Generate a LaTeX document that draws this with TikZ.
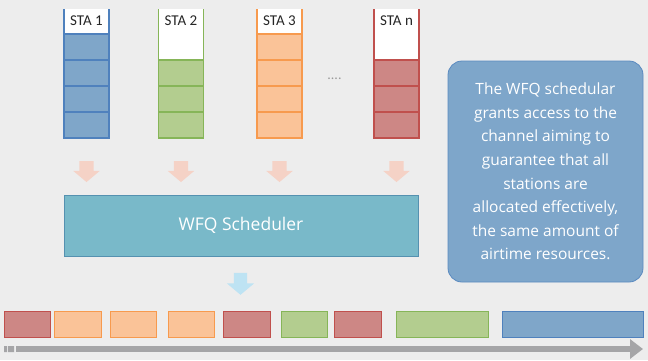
\documentclass[tikz,border=0pt]{standalone}
\usepackage{fontspec}
\setmainfont{Carlito}
\newfontfamily\lightfont{Open Sans}
\usetikzlibrary{shapes.arrows, arrows.meta}

\definecolor{bggray}{HTML}{EDEDED}
\definecolor{blueline}{HTML}{4F81BD}
\definecolor{bluefill}{HTML}{7FA6C9}
\definecolor{greenline}{HTML}{86B558}
\definecolor{greenfill}{HTML}{B3CD8F}
\definecolor{orangeline}{HTML}{F79A4E}
\definecolor{orangefill}{HTML}{FAC398}
\definecolor{redline}{HTML}{C0504D}
\definecolor{redfill}{HTML}{CD8785}
\definecolor{schedfill}{HTML}{79B9C9}
\definecolor{schedline}{HTML}{5591B0}
\definecolor{notefill}{HTML}{7EA6CA}
\definecolor{noteline}{HTML}{5A8AC0}
\definecolor{salmon}{HTML}{F5D2C6}
\definecolor{skyarrow}{HTML}{BEE3F3}
\definecolor{timegray}{HTML}{A5A5A7}
\definecolor{dotgray}{HTML}{9A9A9A}

\begin{document}
\begin{tikzpicture}[
    x=1pt, y=-1pt,
    cell/.style={rectangle, draw=#1line, fill=#1fill, line width=1.1pt, minimum width=45pt, minimum height=26pt, inner sep=0pt},
    slot/.style={rectangle, draw=#1line, fill=#1fill, line width=1pt, minimum height=26pt, inner sep=0pt},
    stalabel/.style={font=\fontsize{15}{17}\selectfont, text=black!85},
    flowarrow/.style={single arrow, shape border rotate=270, fill=#1, draw=none, inner sep=7pt, minimum height=21pt, single arrow head extend=6pt, single arrow tip angle=100, single arrow head indent=0pt},
    scheduler/.style={rectangle, draw=schedline, fill=schedfill, line width=0.8pt, minimum width=354pt, minimum height=61pt, text=white, font=\lightfont\fontsize{17.5}{20}\selectfont},
    note/.style={rectangle, rounded corners=14pt, draw=noteline, fill=notefill, line width=0.8pt, minimum width=195pt, minimum height=221pt, align=center, text=white, font=\lightfont\fontsize{15.5}{23.6}\selectfont},
    timeline/.style={line width=6pt, timegray, -{Triangle[length=13pt, width=19pt]}}
]
% Background
\fill[bggray] (0,0) rectangle (648,360);
\useasboundingbox (0,0) rectangle (648,360);

% Station queues
\foreach \sta/\cx/\n/\col in {1/86.5/4/blue, 2/181/3/green, 3/279.5/4/orange, n/396.5/3/red} {
    \draw[draw=\col line, line width=1.1pt, fill=white] (\cx-22.5,9) -- (\cx-22.5,138) -- (\cx+22.5,138) -- (\cx+22.5,9);
    \foreach \k in {1,...,\n} {
        \node[cell=\col] (q\sta-\k) at (\cx, 151-26*\k) {};
    }
    \node[stalabel] (sta\sta) at (\cx, 21) {STA \sta};
    \node[flowarrow=salmon] (in\sta) at (\cx, 168.5) {};
}
\node[font=\fontsize{14}{16}\selectfont, text=dotgray] (more) at (334.5, 79) {....};

% Scheduler
\node[scheduler] (wfq) at (241, 225.5) {WFQ Scheduler};
\node[flowarrow=skyarrow, inner sep=6.5pt, minimum height=22pt, single arrow head extend=7pt] (out) at (240.5, 281) {};

% Explanation
\node[note] (note) at (545.5, 171.5) {The WFQ schedular\\grants access to the\\channel aiming to\\guarantee that all\\stations are\\allocated effectively,\\the same amount of\\airtime resources.};

% Airtime slots
\foreach \cx/\w/\col [count=\i] in {27/46/red, 77.5/47/orange, 133/46/orange, 191/46/orange, 246.5/47/red, 304/46/green, 357.5/47/red, 442/92/green, 572.5/141/blue}
    \node[slot=\col, minimum width=\w pt] (slot\i) at (\cx, 324) {};

% Time axis
\coordinate (tstart) at (16,349);
\coordinate (tend) at (643,349);
\draw[timeline] (tstart) -- (tend);
\fill[timegray] (4,346) rectangle (7,352) (8,346) rectangle (14,352);
\end{tikzpicture}
\end{document}
